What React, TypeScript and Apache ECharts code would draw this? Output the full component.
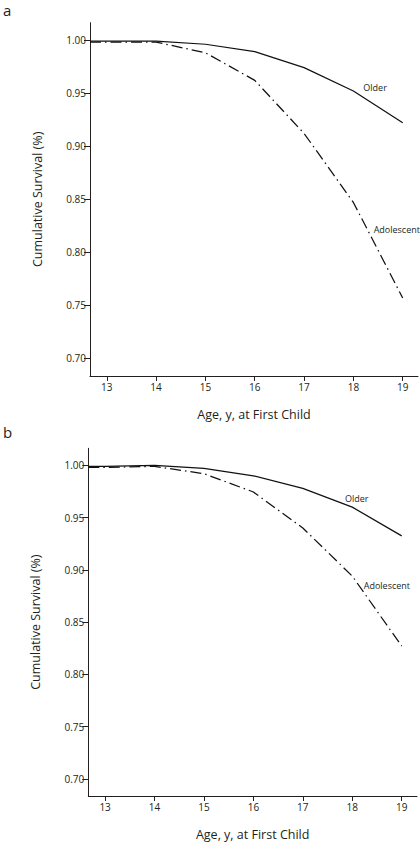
import React, { useEffect, useRef } from "react";
import * as echarts from "echarts";

const ages = [12.66, 13, 14, 15, 16, 17, 18, 19];
const olderA = [0.999, 0.999, 0.999, 0.996, 0.989, 0.974, 0.952, 0.922];
const adolescentA = [0.998, 0.998, 0.998, 0.988, 0.962, 0.912, 0.847, 0.757];
const olderB = [0.999, 0.999, 1.0, 0.997, 0.99, 0.978, 0.96, 0.9325];
const adolescentB = [0.998, 0.998, 0.999, 0.992, 0.9745, 0.94, 0.894, 0.827];
const yTicks = [0.7, 0.75, 0.8, 0.85, 0.9, 0.95, 1.0];
const xTicks = [13, 14, 15, 16, 17, 18, 19];
const panelLetters = ["a", "b"];
const seriesNames = ["Older", "Adolescent"];
// label anchor points (data coords) for each panel: [older, adolescent]
const labelPosA = [[18.44, 0.955], [18.88, 0.8213]];
const labelPosB = [[18.09, 0.9683], [18.7, 0.8854]];

const FONT = "'Open Sans', 'Noto Sans', sans-serif";
const INK = "#231f20";

export default function App() {
  const ref = useRef<HTMLDivElement>(null);
  useEffect(() => {
    if (!ref.current) return;
    const chart = echarts.init(ref.current, null, { renderer: "svg" });
    const grids = [
      { left: 90, top: 22.7, width: 328, height: 353.3 },
      { left: 88.3, top: 448.3, width: 328.7, height: 354 },
    ];
    const xAxis = grids.map((_, i) => ({
      type: "value",
      gridIndex: i,
      min: 12.66,
      max: 19.31,
      name: "Age, y, at First Child",
      nameLocation: "middle",
      nameGap: 32,
      nameTextStyle: { fontFamily: FONT, fontSize: 12.5, color: INK },
      axisLine: { show: true, lineStyle: { color: INK, width: 1 } },
      axisTick: { show: true, inside: false, length: 5, customValues: xTicks, lineStyle: { color: INK } },
      axisLabel: {
        customValues: xTicks,
        fontFamily: FONT,
        fontSize: 10,
        color: INK,
        margin: 6,
        formatter: (v: number) => String(v),
      },
      splitLine: { show: false },
    }));
    const yAxis = grids.map((_, i) => ({
      type: "value",
      gridIndex: i,
      min: 0.6835,
      max: 1.0163,
      name: "Cumulative Survival (%)",
      nameLocation: "middle",
      nameGap: 46,
      nameTextStyle: { fontFamily: FONT, fontSize: 12.5, color: INK },
      axisLine: { show: true, lineStyle: { color: INK, width: 1 } },
      axisTick: { show: true, inside: false, length: 6, customValues: yTicks, lineStyle: { color: INK } },
      axisLabel: {
        customValues: yTicks,
        fontFamily: FONT,
        fontSize: 10,
        color: INK,
        margin: 4,
        formatter: (v: number) => v.toFixed(2),
      },
      splitLine: { show: false },
    }));
    const mk = (pos: number[], text: string) => ({
      symbol: "circle",
      symbolSize: 0,
      data: [{ coord: pos }],
      label: {
        show: true,
        position: "inside",
        formatter: text,
        fontFamily: FONT,
        fontSize: 9,
        color: INK,
      },
    });
    const panels = [
      [olderA, adolescentA, labelPosA],
      [olderB, adolescentB, labelPosB],
    ] as const;
    const series: any[] = [];
    panels.forEach(([older, adol, pos], i) => {
      series.push({
        type: "line",
        name: seriesNames[0],
        xAxisIndex: i,
        yAxisIndex: i,
        data: ages.map((a, j) => [a, older[j]]),
        showSymbol: false,
        symbol: "none",
        lineStyle: { color: "#111", width: 1.25, type: "solid" },
        markPoint: mk(pos[0] as number[], seriesNames[0]),
      });
      series.push({
        type: "line",
        name: seriesNames[1],
        xAxisIndex: i,
        yAxisIndex: i,
        data: ages.map((a, j) => [a, adol[j]]),
        showSymbol: false,
        symbol: "none",
        lineStyle: { color: "#111", width: 1.25, type: [11, 4, 1.5, 4] },
        markPoint: mk(pos[1] as number[], seriesNames[1]),
      });
    });
    chart.setOption({
      animation: false,
      backgroundColor: "#fff",
      grid: grids,
      xAxis,
      yAxis,
      series,
      graphic: [
        { type: "text", left: 3, top: 2, style: { text: panelLetters[0], font: `15px ${FONT}`, fill: INK } },
        { type: "text", left: 3, top: 424, style: { text: panelLetters[1], font: `15px ${FONT}`, fill: INK } },
      ],
    });
    return () => chart.dispose();
  }, []);
  return (
    <div
      ref={ref}
      style={{ position: "absolute", left: 0, top: 0, width: 420, height: 842 }}
    />
  );
}
